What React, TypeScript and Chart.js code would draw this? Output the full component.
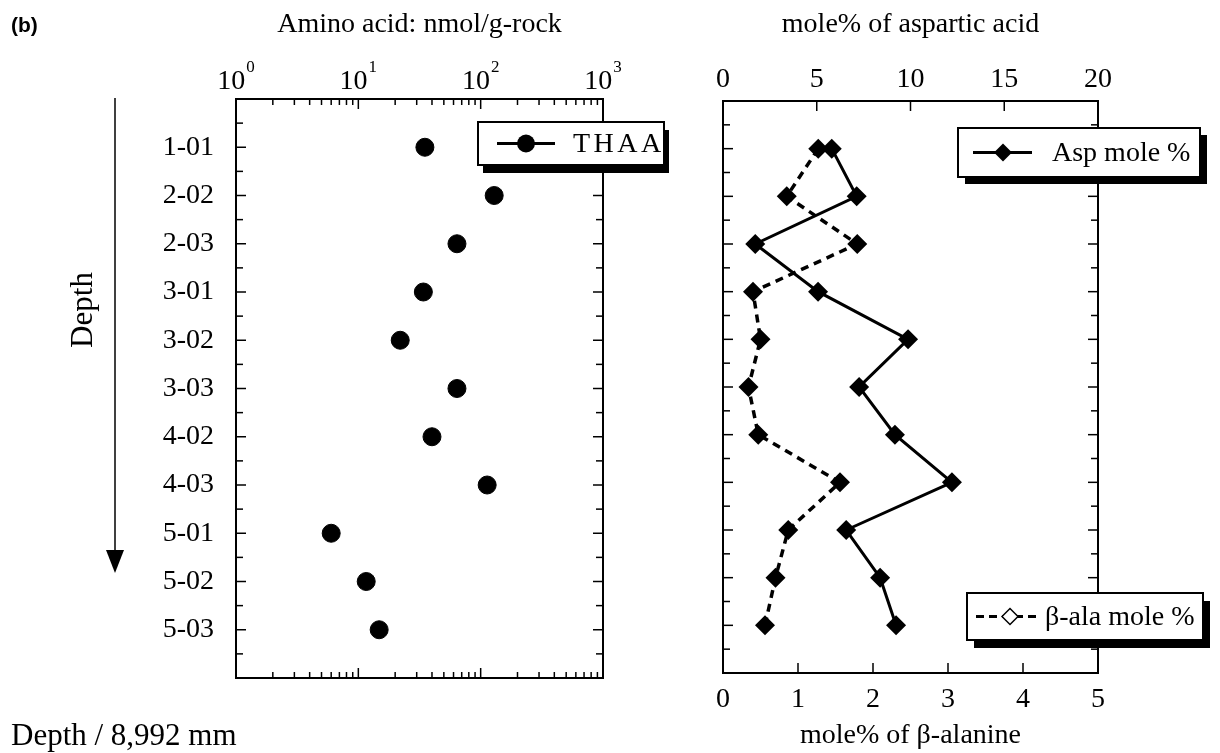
import React, { useEffect, useRef } from 'react';
import { Chart, registerables } from 'chart.js';

Chart.register(...registerables);

// ---- data ----
const depths = ['1-01', '2-02', '2-03', '3-01', '3-02', '3-03', '4-02', '4-03', '5-01', '5-02', '5-03'];
const thaa = [35, 129, 64, 34, 22, 64, 40, 113, 6.0, 11.6, 14.8];
const aspMole = [5.8, 7.13, 1.72, 5.07, 9.87, 7.26, 9.17, 12.21, 6.57, 8.38, 9.23];
const betaAlaMole = [1.27, 0.85, 1.79, 0.4, 0.5, 0.34, 0.47, 1.56, 0.87, 0.7, 0.56];
const logDecades = [1, 10, 100, 1000];
const logExponents = ['0', '1', '2', '3'];
const aspTicks = [0, 5, 10, 15, 20];
const betaTicks = [0, 1, 2, 3, 4, 5];

const SERIF = "'Liberation Serif', 'Times New Roman', serif";
const FS = 28;
const font = { family: SERIF, size: FS };

function line(ctx: CanvasRenderingContext2D, x1: number, y1: number, x2: number, y2: number) {
  ctx.beginPath();
  ctx.moveTo(x1, y1);
  ctx.lineTo(x2, y2);
  ctx.stroke();
}

function legendBox(ctx: CanvasRenderingContext2D, x: number, y: number, w: number, h: number, sx: number, sy: number) {
  ctx.fillStyle = '#000';
  ctx.fillRect(x + sx, y + sy, w, h);
  ctx.fillStyle = '#fff';
  ctx.fillRect(x, y, w, h);
  ctx.strokeStyle = '#000';
  ctx.lineWidth = 2;
  ctx.strokeRect(x, y, w, h);
}

function diamond(ctx: CanvasRenderingContext2D, x: number, y: number, r: number, filled: boolean) {
  ctx.beginPath();
  ctx.moveTo(x - r, y);
  ctx.lineTo(x, y - r);
  ctx.lineTo(x + r, y);
  ctx.lineTo(x, y + r);
  ctx.closePath();
  if (filled) {
    ctx.fillStyle = '#000';
    ctx.fill();
  } else {
    ctx.fillStyle = '#fff';
    ctx.fill();
    ctx.lineWidth = 1.5;
    ctx.strokeStyle = '#000';
    ctx.stroke();
  }
}

function yTicks(ctx: CanvasRenderingContext2D, chart: any) {
  const a = chart.chartArea;
  const y = chart.scales.y;
  for (let k = 1; k < 24; k++) {
    const py = y.getPixelForValue(k / 2);
    const L = k % 2 === 0 ? 10 : 7;
    line(ctx, a.left, py, a.left + L, py);
    line(ctx, a.right, py, a.right - L, py);
  }
}

const leftPlugin = {
  id: 'leftDecor',
  beforeDatasetsDraw(chart: any) {
    const { ctx, chartArea: a, scales } = chart;
    const x = scales.x;
    ctx.save();
    ctx.strokeStyle = '#000';
    ctx.lineWidth = 2;
    ctx.strokeRect(a.left, a.top, a.right - a.left, a.bottom - a.top);
    ctx.lineWidth = 1.5;
    yTicks(ctx, chart);
    for (let d = 0; d < 3; d++) {
      for (let m = 1; m <= 9; m++) {
        const v = m * logDecades[d];
        if (v === 1) continue;
        const px = x.getPixelForValue(v);
        const L = m === 1 ? 10 : 6;
        line(ctx, px, a.top, px, a.top + L);
        line(ctx, px, a.bottom, px, a.bottom - L);
      }
    }
    // decade labels 10^n
    ctx.fillStyle = '#000';
    ctx.textBaseline = 'alphabetic';
    ctx.textAlign = 'left';
    logDecades.forEach((v, i) => {
      const px = x.getPixelForValue(v);
      ctx.font = `${FS}px ${SERIF}`;
      const w1 = ctx.measureText('10').width;
      ctx.font = `17px ${SERIF}`;
      const w2 = ctx.measureText(logExponents[i]).width;
      const start = px - (w1 + w2 + 1) / 2;
      ctx.font = `${FS}px ${SERIF}`;
      ctx.fillText('10', start, 89);
      ctx.font = `17px ${SERIF}`;
      ctx.fillText(logExponents[i], start + w1 + 1, 72);
    });
    ctx.restore();
  },
  afterDraw(chart: any) {
    const { ctx } = chart;
    ctx.save();
    // panel label
    ctx.fillStyle = '#000';
    ctx.font = `bold 21px 'Liberation Sans', Arial, sans-serif`;
    ctx.textBaseline = 'middle';
    ctx.textAlign = 'left';
    ctx.fillText('(b)', 11, 26);
    // Depth vertical label
    ctx.font = `31px ${SERIF}`;
    ctx.save();
    ctx.translate(84, 310);
    ctx.rotate(-Math.PI / 2);
    ctx.textAlign = 'center';
    ctx.fillText('Depth', 0, 0);
    ctx.restore();
    // arrow
    ctx.strokeStyle = '#000';
    ctx.lineWidth = 1.5;
    line(ctx, 115, 98, 115, 552);
    ctx.beginPath();
    ctx.moveTo(106, 550);
    ctx.lineTo(124, 550);
    ctx.lineTo(115, 573);
    ctx.closePath();
    ctx.fill();
    // bottom caption
    ctx.font = `31px ${SERIF}`;
    ctx.textAlign = 'left';
    ctx.fillText('Depth / 8,992 mm', 11, 737);
    // legend
    legendBox(ctx, 478, 122, 186, 43, 5, 8);
    ctx.strokeStyle = '#000';
    ctx.lineWidth = 3;
    line(ctx, 497, 143.5, 555, 143.5);
    ctx.beginPath();
    ctx.arc(526, 143.5, 9, 0, Math.PI * 2);
    ctx.fillStyle = '#000';
    ctx.fill();
    ctx.font = `${FS}px ${SERIF}`;
    ctx.textBaseline = 'middle';
    (ctx as any).letterSpacing = '3.5px';
    ctx.fillText('THAA', 573, 145);
    (ctx as any).letterSpacing = '0px';
    ctx.restore();
  },
};

const rightPlugin = {
  id: 'rightDecor',
  beforeDatasetsDraw(chart: any) {
    const { ctx, chartArea: a, scales } = chart;
    ctx.save();
    ctx.strokeStyle = '#000';
    ctx.lineWidth = 2;
    ctx.strokeRect(a.left, a.top, a.right - a.left, a.bottom - a.top);
    ctx.lineWidth = 1.5;
    yTicks(ctx, chart);
    aspTicks.slice(1, -1).forEach((v) => {
      const px = scales.xTop.getPixelForValue(v);
      line(ctx, px, a.top, px, a.top + 10);
    });
    betaTicks.slice(1, -1).forEach((v) => {
      const px = scales.xBot.getPixelForValue(v);
      line(ctx, px, a.bottom, px, a.bottom - 10);
    });
    ctx.restore();
  },
  afterDraw(chart: any) {
    const { ctx } = chart;
    ctx.save();
    // Asp legend
    legendBox(ctx, 258, 128, 242, 49, 7, 7);
    ctx.strokeStyle = '#000';
    ctx.lineWidth = 3;
    line(ctx, 273, 152.5, 332, 152.5);
    diamond(ctx, 303, 152.5, 9, true);
    ctx.fillStyle = '#000';
    ctx.font = `${FS}px ${SERIF}`;
    ctx.textBaseline = 'middle';
    ctx.textAlign = 'left';
    ctx.fillText('Asp mole %', 352, 154);
    // beta-ala legend
    legendBox(ctx, 267, 593, 236, 47, 7, 8);
    ctx.strokeStyle = '#000';
    ctx.lineWidth = 3;
    ctx.setLineDash([8, 5]);
    line(ctx, 276, 616.5, 341, 616.5);
    ctx.setLineDash([]);
    diamond(ctx, 310, 616.5, 8, false);
    ctx.fillStyle = '#000';
    ctx.font = `${FS}px ${SERIF}`;
    ctx.fillText('β-ala mole %', 345, 618);
    ctx.restore();
  },
};

export default function App() {
  const leftRef = useRef<HTMLCanvasElement>(null);
  const rightRef = useRef<HTMLCanvasElement>(null);

  useEffect(() => {
    const noGrid = { display: false, drawTicks: false };
    const left = new Chart(leftRef.current as HTMLCanvasElement, {
      type: 'scatter',
      data: {
        datasets: [
          {
            label: 'THAA',
            data: thaa.map((v, i) => ({ x: v, y: i + 1 })),
            pointStyle: 'circle',
            pointRadius: 9,
            pointHoverRadius: 9,
            backgroundColor: '#000',
            borderColor: '#000',
            borderWidth: 1,
            showLine: false,
          },
        ],
      },
      options: {
        animation: false,
        responsive: false,
        maintainAspectRatio: false,
        layout: { padding: { left: 0, top: 0, right: 97, bottom: 75 } },
        plugins: { legend: { display: false }, tooltip: { enabled: false } },
        scales: {
          x: {
            type: 'logarithmic',
            position: 'top',
            min: 1,
            max: 1000,
            grid: noGrid,
            border: { display: false },
            ticks: { display: false },
            title: { display: true, text: 'Amino acid: nmol/g-rock', font, color: '#000', padding: { top: 8, bottom: 0 } },
            afterFit: (s: any) => { s.height = 99; },
          },
          y: {
            type: 'linear',
            min: 0,
            max: 12,
            reverse: true,
            grid: noGrid,
            border: { display: false },
            ticks: {
              stepSize: 1,
              autoSkip: false,
              font,
              color: '#000',
              padding: 22,
              callback: (v: any) => depths[v - 1] ?? '',
            },
            afterFit: (s: any) => { s.width = 236; },
          },
        },
      },
      plugins: [leftPlugin],
    } as any);

    const right = new Chart(rightRef.current as HTMLCanvasElement, {
      type: 'scatter',
      data: {
        datasets: [
          {
            label: 'Asp mole %',
            data: aspMole.map((v, i) => ({ x: v, y: i + 1 })),
            xAxisID: 'xTop',
            yAxisID: 'y',
            showLine: true,
            borderColor: '#000',
            borderWidth: 3,
            pointStyle: 'rectRot',
            pointRadius: 10,
            pointHoverRadius: 10,
            backgroundColor: '#000',
            pointBorderWidth: 0,
          },
          {
            label: 'β-ala mole %',
            data: betaAlaMole.map((v, i) => ({ x: v, y: i + 1 })),
            xAxisID: 'xBot',
            yAxisID: 'y',
            showLine: true,
            borderColor: '#000',
            borderWidth: 3.5,
            borderDash: [8, 6],
            pointStyle: 'rectRot',
            pointRadius: 10,
            pointHoverRadius: 10,
            backgroundColor: '#000',
            pointBorderWidth: 0,
          },
        ],
      },
      options: {
        animation: false,
        responsive: false,
        maintainAspectRatio: false,
        layout: { padding: { left: 0, top: 0, right: 122, bottom: 0 } },
        plugins: { legend: { display: false }, tooltip: { enabled: false } },
        scales: {
          xTop: {
            type: 'linear',
            position: 'top',
            min: 0,
            max: 20,
            grid: noGrid,
            border: { display: false },
            ticks: { stepSize: 5, font, color: '#000', padding: 5, maxRotation: 0 },
            title: { display: true, text: 'mole% of aspartic acid', font, color: '#000', padding: { top: 8, bottom: 0 } },
            afterFit: (s: any) => { s.height = 101; },
          },
          xBot: {
            type: 'linear',
            position: 'bottom',
            min: 0,
            max: 5,
            grid: noGrid,
            border: { display: false },
            ticks: { stepSize: 1, font, color: '#000', padding: 10, maxRotation: 0 },
            title: { display: true, text: 'mole% of β-alanine', font, color: '#000', padding: { top: 0, bottom: 1 } },
            afterFit: (s: any) => { s.height = 80; },
          },
          y: {
            type: 'linear',
            min: 0,
            max: 12,
            reverse: true,
            grid: noGrid,
            border: { display: false },
            ticks: { display: false, stepSize: 1 },
            afterFit: (s: any) => { s.width = 23; },
          },
        },
      },
      plugins: [rightPlugin],
    } as any);

    return () => {
      left.destroy();
      right.destroy();
    };
  }, []);

  return (
    <div style={{ position: 'fixed', left: 0, top: 0, width: 1220, height: 753, background: '#fff' }}>
      <canvas ref={leftRef} width={700} height={753} style={{ position: 'absolute', left: 0, top: 0 }} />
      <canvas ref={rightRef} width={520} height={753} style={{ position: 'absolute', left: 700, top: 0 }} />
    </div>
  );
}
